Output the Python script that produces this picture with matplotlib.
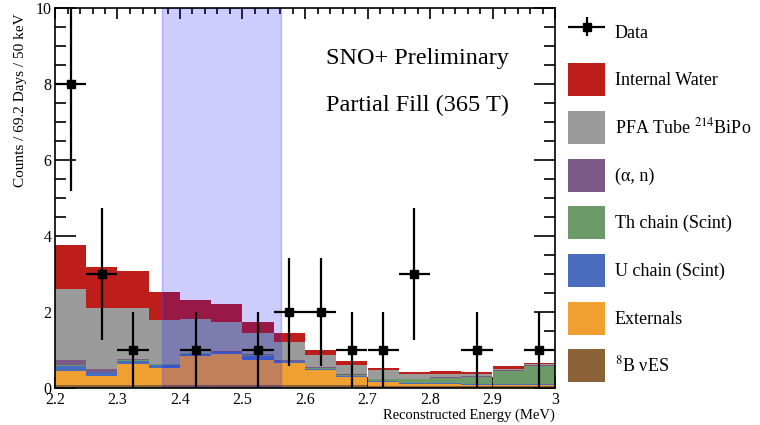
import numpy as np
import matplotlib
matplotlib.use("Agg")
from matplotlib import pyplot as plt
from matplotlib.patches import Patch
from matplotlib.legend_handler import HandlerErrorbar
from matplotlib.ticker import MultipleLocator

plt.rcParams['font.family'] = ['Liberation Serif', 'DejaVu Serif']
plt.rcParams['mathtext.fontset'] = 'stix'

# bin edges (MeV), 50 keV bins
edges = np.round(np.arange(2.2, 3.0001, 0.05), 3)
centers = edges[:-1] + 0.025

# stacked backgrounds, bottom to top
b8_es = [0.07, 0.07, 0.07, 0.07, 0.07, 0.07, 0.07, 0.07, 0.07, 0.07, 0.06, 0.06, 0.06, 0.06, 0.06, 0.06]
externals = [0.38, 0.24, 0.55, 0.45, 0.76, 0.82, 0.68, 0.58, 0.40, 0.22, 0.10, 0.05, 0.04, 0.03, 0.02, 0.02]
u_chain = [0.12, 0.10, 0.10, 0.08, 0.06, 0.05, 0.10, 0.05, 0.04, 0.03, 0.03, 0.02, 0.02, 0.02, 0.02, 0.02]
th_chain = [0.03, 0.02, 0.02, 0.02, 0.02, 0.02, 0.02, 0.02, 0.02, 0.02, 0.04, 0.10, 0.15, 0.18, 0.36, 0.49]
alpha_n = [0.15, 0.06, 0.03, 0.02, 0.02, 0.02, 0.02, 0.02, 0.02, 0.02, 0.02, 0.02, 0.02, 0.02, 0.02, 0.02]
pfa_bipo = [1.85, 1.61, 1.34, 1.15, 0.89, 0.76, 0.55, 0.47, 0.32, 0.24, 0.22, 0.12, 0.08, 0.05, 0.03, 0.02]
int_water = [1.17, 1.09, 0.96, 0.74, 0.49, 0.46, 0.31, 0.23, 0.14, 0.11, 0.06, 0.06, 0.08, 0.07, 0.06, 0.04]

counts = [8, 3, 1, 0, 1, 0, 1, 2, 2, 1, 1, 3, 0, 1, 0, 1]

roi = (2.372, 2.562)

components = [
    (b8_es, '#8c6239', r'$^{8}$B νES'),
    (externals, '#f0a030', 'Externals'),
    (u_chain, '#4a6cbf', 'U chain (Scint)'),
    (th_chain, '#6c9a68', 'Th chain (Scint)'),
    (alpha_n, '#7b5a85', '(α, n)'),
    (pfa_bipo, '#9b9b9b', r'PFA Tube $^{214}$BiPo'),
    (int_water, '#be1e19', 'Internal Water'),
]

fig = plt.figure(figsize=(7.6, 4.25), dpi=100)
ax = fig.add_axes([55/760, 1-388/425, 500/760, 380/425])

bottom = np.zeros(len(centers))
for vals, col, lab in components:
    ax.bar(edges[:-1], vals, width=0.05, bottom=bottom, align='edge',
           color=col, edgecolor='none', zorder=3)
    bottom += np.array(vals)

ax.axvspan(roi[0], roi[1], facecolor=(0, 0, 1, 0.2), edgecolor=(0.3, 0.3, 1, 0.35),
           linewidth=1, zorder=3.5)

counts = np.array(counts, dtype=float)
m = counts > 0
eb = ax.errorbar(centers[m], counts[m], xerr=0.025, yerr=np.sqrt(counts[m]),
                 fmt='s', color='black', ms=6, elinewidth=1.6, capsize=0, zorder=5)

for sp in ax.spines.values():
    sp.set_zorder(4)
    sp.set_linewidth(1.2)

ax.set_xlim(2.2, 3.0)
ax.set_ylim(0, 10)
ax.xaxis.set_major_locator(MultipleLocator(0.1))
ax.xaxis.set_minor_locator(MultipleLocator(0.02))
ax.yaxis.set_major_locator(MultipleLocator(2))
ax.yaxis.set_minor_locator(MultipleLocator(0.5))
xt = [2.2, 2.3, 2.4, 2.5, 2.6, 2.7, 2.8, 2.9, 3.0]
ax.set_xticks(xt)
ax.set_xticklabels(['2.2', '2.3', '2.4', '2.5', '2.6', '2.7', '2.8', '2.9', '3'])
ax.tick_params(axis='x', which='major', direction='in', top=True, length=8, width=1.2, labelsize=11.5, pad=3)
ax.tick_params(axis='x', which='minor', direction='in', top=True, length=4, width=1.2)
ax.tick_params(axis='y', which='major', direction='in', right=True, length=15, width=1.2, labelsize=11.5, pad=2.5)
ax.tick_params(axis='y', which='minor', direction='in', right=True, length=8, width=1.2)

ax.set_xlabel('Reconstructed Energy (MeV)', fontsize=10.5, loc='right', labelpad=0)
ax.set_ylabel('Counts / 69.2 Days / 50 keV', fontsize=11, loc='top')
ax.yaxis.set_label_coords(-0.056, 0.985)

ax.text(0.724, 0.866, 'SNO+ Preliminary', transform=ax.transAxes, fontsize=17.5,
        ha='center', va='center')
ax.text(0.724, 0.743, 'Partial Fill (365 T)', transform=ax.transAxes, fontsize=17.5,
        ha='center', va='center')

handles = [eb] + [Patch(facecolor=c, edgecolor='none') for v, c, l in components[::-1]]
labels = ['Data'] + [l for v, c, l in components[::-1]]
fig.legend(handles, labels, loc='upper left', bbox_to_anchor=(568/760, 1-15.5/425),
           frameon=False, fontsize=13, handlelength=2.05, handleheight=2.44,
           labelspacing=0.81, handletextpad=0.55, borderpad=0, borderaxespad=0,
           handler_map={type(eb): HandlerErrorbar(xerr_size=1.0, yerr_size=0.55)})

fig.savefig('out.png', dpi=100)
